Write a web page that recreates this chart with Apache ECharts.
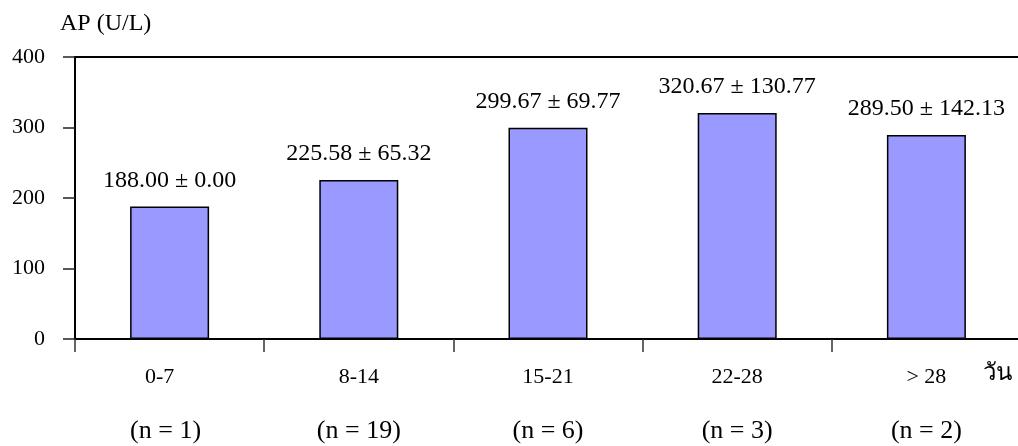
<!DOCTYPE html>
<html>
<head>
<meta charset="utf-8">
<script src="https://cdn.jsdelivr.net/npm/echarts@6/dist/echarts.min.js"></script>
<style>
  html, body { margin: 0; padding: 0; background: #ffffff; }
  #chart { width: 1018px; height: 446px; }
</style>
</head>
<body>
<div id="chart"></div>
<script>
// Alkaline phosphatase (AP, U/L) by day range: mean ± SD with group sizes
const dayRanges = ['0-7', '8-14', '15-21', '22-28', '> 28'];
const apMean = [188.00, 225.58, 299.67, 320.67, 289.50];
const apSD = [0.00, 65.32, 69.77, 130.77, 142.13];
const groupN = [1, 19, 6, 3, 2];
const yTicks = [0, 100, 200, 300, 400];

const serif = '"Liberation Serif", "Times New Roman", "DejaVu Serif", serif';

const chart = echarts.init(document.getElementById('chart'), null, { renderer: 'canvas' });

chart.setOption({
  backgroundColor: '#ffffff',
  animation: false,
  grid: {
    left: 75,
    top: 57,
    width: 946,
    height: 282,
    show: true,
    borderColor: '#000000',
    borderWidth: 2,
    backgroundColor: 'transparent',
    containLabel: false,
    outerBoundsMode: 'none'
  },
  xAxis: {
    type: 'category',
    data: dayRanges,
    boundaryGap: true,
    axisLine: { show: true, lineStyle: { color: '#000000', width: 2 } },
    axisTick: { show: true, length: 13, lineStyle: { color: '#333333', width: 1.5 } },
    axisLabel: {
      margin: 25,
      interval: 0,
      // first label sits a little left of its category centre
      formatter: (value, idx) => idx === 0
        ? '{a0|' + value + '}\n{b0|(n = ' + groupN[idx] + ')}'
        : '{a|' + value + '}\n{b|(n = ' + groupN[idx] + ')}',
      rich: {
        a: { fontFamily: serif, fontSize: 22, color: '#000000', lineHeight: 27 },
        b: { fontFamily: serif, fontSize: 26, color: '#000000', lineHeight: 81 },
        a0: { fontFamily: serif, fontSize: 22, color: '#000000', lineHeight: 27, padding: [0, 20, 0, 0] },
        b0: { fontFamily: serif, fontSize: 26, color: '#000000', lineHeight: 81, padding: [0, 8, 0, 0] }
      }
    },
    splitLine: { show: false }
  },
  yAxis: {
    type: 'value',
    min: yTicks[0],
    max: yTicks[yTicks.length - 1],
    interval: 100,
    axisLine: { show: true, lineStyle: { color: '#000000', width: 2 } },
    axisTick: { show: true, length: 12, lineStyle: { color: '#222222', width: 1.5 } },
    axisLabel: {
      margin: 30,
      fontFamily: serif,
      fontSize: 22,
      color: '#000000',
      padding: [6, 0, 0, 0]
    },
    splitLine: { show: false }
  },
  graphic: [
    {
      type: 'text',
      left: 60,
      top: 12,
      style: { text: 'AP (U/L)', font: '24px ' + serif, fill: '#000000' }
    },
    {
      type: 'text',
      left: 983,
      top: 362,
      style: { text: 'วัน', font: '24px ' + serif, fill: '#000000' }
    }
  ],
  series: [
    {
      type: 'bar',
      data: apMean,
      barWidth: 79,
      itemStyle: { color: '#9999ff', borderColor: '#000000', borderWidth: 1.5 },
      label: {
        show: true,
        position: 'top',
        distance: 14,
        fontFamily: serif,
        fontSize: 24,
        color: '#000000',
        formatter: (p) => apMean[p.dataIndex].toFixed(2) + ' ± ' + apSD[p.dataIndex].toFixed(2)
      }
    }
  ]
});
</script>
</body>
</html>
